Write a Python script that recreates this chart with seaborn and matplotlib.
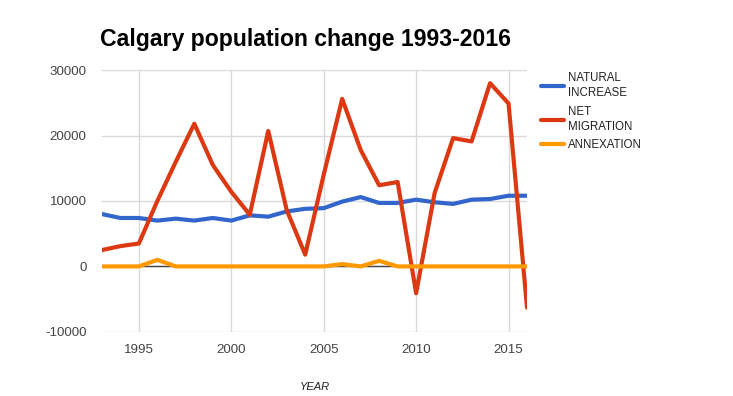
import numpy as np
import pandas as pd
import matplotlib
matplotlib.use("Agg")
import matplotlib.pyplot as plt
import seaborn as sns

# Data
YEARS = list(range(1993, 2017))
NATURAL_INCREASE = [8000, 7400, 7400, 7000, 7300, 7000, 7400, 7000, 7800, 7600, 8400, 8800,
                    8900, 9900, 10600, 9700, 9700, 10200, 9800, 9550, 10200, 10300, 10800, 10800]
NET_MIGRATION = [2500, 3100, 3500, 10000, 16000, 21800, 15500, 11400, 7900, 20700, 8600, 1800,
                 14000, 25600, 17800, 12400, 12900, -4100, 11200, 19600, 19100, 28000, 24900, -6300]
ANNEXATION = [0, 0, 0, 1000, 0, 0, 0, 0, 0, 0, 0, 0,
              0, 350, 0, 850, 0, 0, 0, 0, 0, 0, 0, 0]

SERIES = ["NATURAL\nINCREASE", "NET\nMIGRATION", "ANNEXATION"]
COLORS = ["#3366cc", "#dc3912", "#ff9900"]
Y_TICKS = [-10000, 0, 10000, 20000, 30000]
X_TICKS = [1995, 2000, 2005, 2010, 2015]

df = pd.DataFrame({
    "year": YEARS * 3,
    "value": NATURAL_INCREASE + NET_MIGRATION + ANNEXATION,
    "series": [SERIES[0]] * len(YEARS) + [SERIES[1]] * len(YEARS) + [SERIES[2]] * len(YEARS),
})

sns.set_theme(style="white")
plt.rcParams["font.family"] = ["Liberation Sans", "DejaVu Sans"]

fig = plt.figure(figsize=(7.33, 3.96), dpi=100)
ax = fig.add_axes([0.139, 0.162, 0.58, 0.661])

# baseline at zero (drawn under the data)
ax.axhline(0, color="#444444", lw=1.0, zorder=1)

sns.lineplot(data=df, x="year", y="value", hue="series", hue_order=SERIES,
             palette=COLORS, lw=3.0, ax=ax, zorder=3)

ax.set_xlim(1993, 2016)
ax.set_ylim(-10000, 30000)
ax.set_xticks(X_TICKS)
ax.set_yticks(Y_TICKS)
ax.set_yticklabels([str(v) for v in Y_TICKS])
ax.grid(True, color="#d9d9d9", lw=1.0, zorder=0)
ax.set_axisbelow(True)
for s in ax.spines.values():
    s.set_visible(False)
ax.tick_params(axis="both", length=0, labelsize=9.6, labelcolor="#444444")
ax.tick_params(axis="y", pad=11)
ax.tick_params(axis="x", pad=8.5)

ax.set_ylabel("")
ax.set_xlabel("YEAR", fontsize=8, style="italic", color="#222222", labelpad=19)

fig.text(0.137, 0.9, "Calgary population change 1993-2016", fontsize=16.6,
         fontweight="bold", color="#000000", ha="left", va="center")

leg = ax.legend(loc="upper left", bbox_to_anchor=(1.0, 1.045), frameon=False,
                fontsize=8.3, handlelength=2.0, handletextpad=0.35, labelspacing=0.55,
                borderaxespad=0.8)
for t in leg.get_texts():
    t.set_color("#222222")
    t.set_linespacing(1.35)
for h in leg.get_lines():
    h.set_linewidth(3.0)

fig.savefig("out.png", dpi=100, facecolor="white")
